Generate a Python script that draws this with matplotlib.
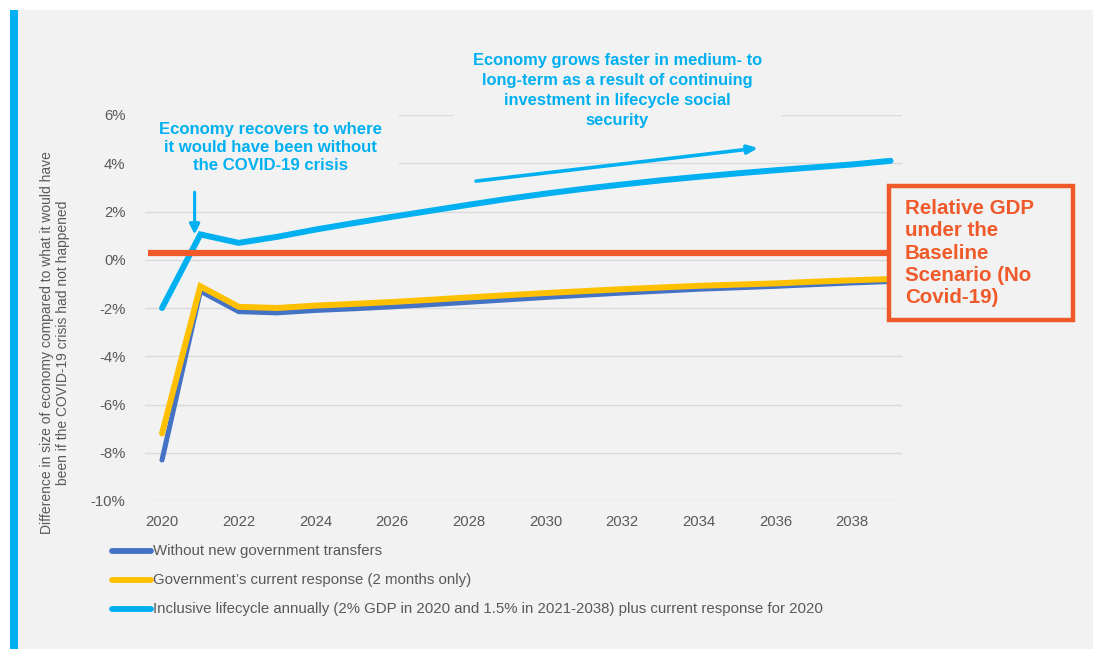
import matplotlib
matplotlib.use("Agg")
import matplotlib.pyplot as plt
from matplotlib.patches import Rectangle
from matplotlib.lines import Line2D

plt.rcParams['font.family'] = ['Liberation Sans', 'DejaVu Sans']

# Data: difference in size of economy vs. no-COVID baseline (%)
years = list(range(2020, 2040))
without_transfers = [-8.3, -1.3, -2.15, -2.2, -2.1, -2.03, -1.95, -1.86, -1.76, -1.66,
                     -1.56, -1.47, -1.38, -1.3, -1.22, -1.16, -1.1, -1.03, -0.96, -0.9]
current_response = [-7.2, -1.1, -1.95, -2.0, -1.9, -1.83, -1.75, -1.66, -1.56, -1.47,
                    -1.38, -1.3, -1.22, -1.15, -1.08, -1.03, -0.98, -0.91, -0.85, -0.8]
inclusive_lifecycle = [-2.0, 1.05, 0.7, 0.95, 1.25, 1.52, 1.78, 2.03, 2.28, 2.52,
                       2.74, 2.94, 3.12, 3.29, 3.44, 3.58, 3.71, 3.83, 3.95, 4.1]
baseline_level = 0.28

series_labels = [
    "Without new government transfers",
    "Government\u2019s current response (2 months only)",
    "Inclusive lifecycle annually (2% GDP in 2020 and 1.5% in 2021-2038) plus current response for 2020",
]
y_ticks = [6, 4, 2, 0, -2, -4, -6, -8, -10]
x_ticks = list(range(2020, 2040, 2))

C_DARK = "#4472C4"
C_YELLOW = "#FFC000"
C_LIGHT = "#00B0F0"
C_ORANGE = "#F05A2A"
C_BG = "#F2F2F2"
C_TXT = "#595959"

W, H = 1093, 649
fig = plt.figure(figsize=(W / 100, H / 100), dpi=100)
fig.patch.set_facecolor("white")

# Slide background panel and left accent bar
fig.add_artist(Rectangle((18 / W, 0), 1 - 18 / W, 1 - 10 / H, transform=fig.transFigure,
                         facecolor=C_BG, edgecolor="none", zorder=-10))
fig.add_artist(Rectangle((10 / W, 0), 8 / W, 1 - 10 / H, transform=fig.transFigure,
                         facecolor=C_LIGHT, edgecolor="none", zorder=-10))

ax = fig.add_axes([145 / W, 1 - 501 / H, (902 - 145) / W, (501 - 115) / H])
ax.set_facecolor("none")
ax.set_xlim(2019.556, 2039.3)
ax.set_ylim(-10, 6)
ax.set_yticks(y_ticks)
ax.set_yticklabels([f"{v}%" for v in y_ticks])
ax.set_xticks(x_ticks)
ax.tick_params(length=0, labelsize=10.7, labelcolor=C_TXT)
ax.tick_params(axis="y", pad=14)
ax.tick_params(axis="x", pad=10)
for s in ax.spines.values():
    s.set_visible(False)
ax.grid(axis="y", color="#D9D9D9", linewidth=1.0, zorder=0)
ax.set_axisbelow(True)

lw = 4.3
ax.plot(years, current_response, color=C_YELLOW, lw=lw, solid_capstyle="round",
        solid_joinstyle="miter", zorder=3)
ax.plot(years, without_transfers, color=C_DARK, lw=lw * 0.85, solid_capstyle="round",
        solid_joinstyle="miter", zorder=2)
ax.plot(years, inclusive_lifecycle, color=C_LIGHT, lw=lw, solid_capstyle="round",
        solid_joinstyle="miter", zorder=4)

# Baseline scenario line and its callout box
ax.plot([2019.63, 2038.95], [baseline_level, baseline_level], color=C_ORANGE, lw=4.5,
        solid_capstyle="butt", zorder=5, clip_on=False)
fig.add_artist(Rectangle((889 / W, 1 - 320 / H), (1073 - 889) / W, (320 - 186) / H,
                         transform=fig.transFigure, facecolor=C_BG, edgecolor=C_ORANGE,
                         linewidth=3.2, zorder=6))
fig.text(905 / W, 1 - 253 / H, "Relative GDP\nunder the\nBaseline\nScenario (No\nCovid-19)",
         color=C_ORANGE, fontsize=14.8, fontweight="bold", ha="left", va="center",
         linespacing=1.22, zorder=7)

# Annotations
ax.text(2022.82, 4.67, "Economy recovers to where\nit would have been without\nthe COVID-19 crisis",
        color=C_LIGHT, fontsize=12.1, fontweight="bold", ha="center", va="center",
        linespacing=1.25, zorder=5,
        bbox=dict(facecolor=C_BG, edgecolor="none", pad=12.5))
ax.annotate("", xy=(2020.85, 1.05), xytext=(2020.85, 2.8),
            arrowprops=dict(arrowstyle="-|>,head_length=0.6,head_width=0.3",
                            color=C_LIGHT, lw=2.2, shrinkA=0, shrinkB=0), zorder=7)

ax.text(2031.87, 7.0,
        "Economy grows faster in medium- to\nlong-term as a result of continuing\ninvestment in lifecycle social\nsecurity",
        color=C_LIGHT, fontsize=11.9, fontweight="bold", ha="center", va="center",
        linespacing=1.42, zorder=5, clip_on=False,
        bbox=dict(facecolor=C_BG, edgecolor="none", pad=14))
ax.annotate("", xy=(2035.55, 4.63), xytext=(2028.19, 3.26),
            arrowprops=dict(arrowstyle="-|>,head_length=0.6,head_width=0.25",
                            color=C_LIGHT, lw=2.6, shrinkA=0, shrinkB=0), zorder=7)

# Y-axis title
fig.text(55 / W, 1 - 343 / H,
         "Difference in size of economy compared to what it would have\nbeen if the COVID-19 crisis had not happened",
         rotation=90, ha="center", va="center", fontsize=10, color=C_TXT, linespacing=1.15)

# Legend
for i, (lab, col) in enumerate(zip(series_labels, [C_DARK, C_YELLOW, C_LIGHT])):
    yy = 1 - (551 + 29 * i) / H
    fig.add_artist(Line2D([112 / W, 151 / W], [yy, yy], transform=fig.transFigure,
                          color=col, lw=4.2, solid_capstyle="round"))
    fig.text(153 / W, yy, lab, ha="left", va="center", fontsize=10.85, color=C_TXT)

fig.savefig("out.png", dpi=100, facecolor=fig.get_facecolor())
